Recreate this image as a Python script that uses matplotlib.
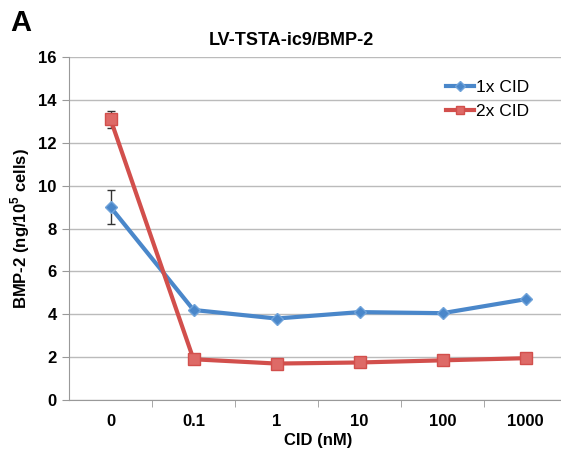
import matplotlib.pyplot as plt
import numpy as np

plt.rcParams["font.family"] = ["Liberation Sans", "DejaVu Sans"]
plt.rcParams["mathtext.fontset"] = "custom"
plt.rcParams["mathtext.bf"] = "Liberation Sans:bold"

categories = ["0", "0.1", "1", "10", "100", "1000"]
cid_1x = [9.0, 4.2, 3.8, 4.1, 4.05, 4.7]
cid_2x = [13.1, 1.9, 1.7, 1.75, 1.85, 1.95]
err_1x = [0.8, 0, 0, 0, 0, 0]
err_2x = [0.4, 0, 0, 0, 0, 0]

blue = "#4A87CA"
red = "#D24F4C"

fig = plt.figure(figsize=(5.61, 4.51), dpi=100)
# plot area runs a little past the right edge, as in the source figure
ax = fig.add_axes([69 / 561, 51 / 451, 498 / 561, 343 / 451])

x = np.arange(len(categories))

ax.errorbar(x[:1], cid_1x[:1], yerr=err_1x[:1], fmt="none",
            ecolor="#333333", elinewidth=1, capsize=3, zorder=2)
ax.errorbar(x[:1], cid_2x[:1], yerr=err_2x[:1], fmt="none",
            ecolor="#333333", elinewidth=1, capsize=3, zorder=2)

ax.plot(x, cid_1x, color=blue, lw=3, marker="D", ms=6.5,
        markerfacecolor=blue, markeredgecolor="#6FA3DA", label="1x CID", zorder=3)
ax.plot(x, cid_2x, color=red, lw=3, marker="s", ms=8,
        markerfacecolor="#DE6A67", markeredgecolor=red, label="2x CID", zorder=3)

ax.set_ylim(0, 16)
ax.set_yticks(np.arange(0, 17, 2))
ax.set_xlim(-0.5, 5.5)
ax.set_xticks(x)
ax.set_xticklabels(categories)
ax.set_xticks(np.arange(0.5, 5, 1), minor=True)

ax.grid(axis="y", color="#BBBBBB", lw=1)
ax.set_axisbelow(True)

for side in ["top", "right"]:
    ax.spines[side].set_visible(False)
ax.spines["left"].set_color("#999999")
ax.spines["bottom"].set_color("#999999")

ax.tick_params(axis="y", length=5, color="#999999", labelsize=12, pad=4)
ax.tick_params(axis="x", which="major", length=0, labelsize=12, pad=10)
ax.tick_params(axis="x", which="minor", length=5, color="#999999")
for lab in ax.get_xticklabels() + ax.get_yticklabels():
    lab.set_fontweight("bold")

ax.set_xlabel("CID (nM)", fontsize=12, fontweight="bold", labelpad=3)
ax.set_ylabel("BMP-2 (ng/10$^\\mathbf{5}$ cells)", fontsize=12, fontweight="bold", labelpad=4)

fig.text(0.52, 0.91, "LV-TSTA-ic9/BMP-2", ha="center", va="center",
         fontsize=13, fontweight="bold")
fig.text(0.018, 0.95, "A", ha="left", va="center", fontsize=21, fontweight="bold")

leg = ax.legend(loc="upper right", bbox_to_anchor=(0.955, 0.98), frameon=False,
                fontsize=12.5, handlelength=1.6, handletextpad=0.1, labelspacing=0.55,
                markerscale=0.8)

fig.savefig("out.png", dpi=100)
